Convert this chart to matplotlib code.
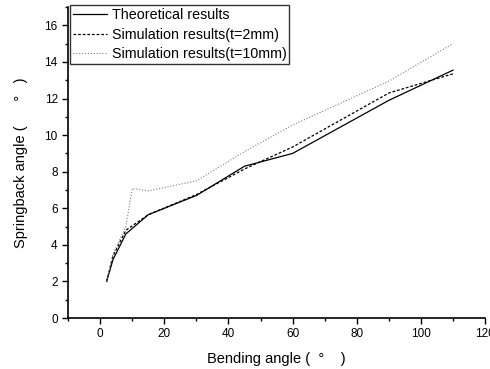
import matplotlib
matplotlib.use("Agg")
import matplotlib.pyplot as plt
from matplotlib.ticker import MultipleLocator

plt.rcParams["font.family"] = ["Liberation Sans", "DejaVu Sans"]

# Data
bending_angle = [2, 4, 8, 15, 30, 45, 60, 90, 110]
theoretical = [2.0, 3.2, 4.6, 5.65, 6.7, 8.3, 9.0, 11.9, 13.55]
sim_t2 = [2.0, 3.4, 4.8, 5.65, 6.75, 8.15, 9.35, 12.3, 13.35]

bending_angle_t10 = [2, 4, 8, 10, 15, 30, 45, 60, 90, 110]
sim_t10 = [2.0, 3.5, 5.0, 7.08, 6.95, 7.5, 9.1, 10.55, 12.95, 15.0]

fig = plt.figure(figsize=(4.9, 3.69), dpi=100)
ax = fig.add_axes([0.139, 0.138, 0.851, 0.843])

ax.plot(bending_angle, theoretical, color="black", lw=0.9, linestyle="-", label="Theoretical results")
ax.plot(bending_angle, sim_t2, color="black", lw=0.9, linestyle=(0, (2.2, 1.5)), label="Simulation results(t=2mm)")
ax.plot(bending_angle_t10, sim_t10, color="#808080", lw=0.8, linestyle=(0, (1, 1.6)), label="Simulation results(t=10mm)")

ax.set_xlim(-10, 120)
ax.set_ylim(0, 17)
ax.xaxis.set_major_locator(MultipleLocator(20))
ax.xaxis.set_minor_locator(MultipleLocator(10))
ax.yaxis.set_major_locator(MultipleLocator(2))
ax.yaxis.set_minor_locator(MultipleLocator(1))
ax.tick_params(which="major", length=4, width=1, labelsize=8.5, direction="out")
ax.tick_params(which="minor", length=2.5, width=1, direction="out")

for side in ["top", "right"]:
    ax.spines[side].set_visible(False)
for side in ["left", "bottom"]:
    ax.spines[side].set_linewidth(1.2)

ax.set_xlabel("Bending angle (  °    )", fontsize=10.5, labelpad=8)
ax.set_ylabel("Springback angle (      °   )", fontsize=10.5, labelpad=12)

leg = ax.legend(loc="upper left", bbox_to_anchor=(0.005, 1.005), fontsize=10.3, frameon=True,
                fancybox=False, borderaxespad=0.0, handlelength=2.4, handletextpad=0.3,
                labelspacing=0.38, borderpad=0.2)
leg.get_frame().set_edgecolor("black")
leg.get_frame().set_linewidth(1.0)

plt.savefig("out.png", dpi=100)
